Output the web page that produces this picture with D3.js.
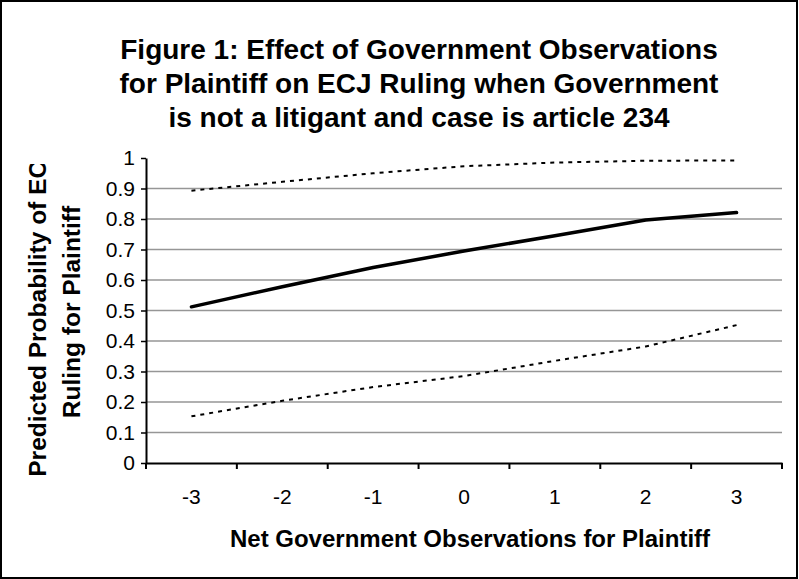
<!DOCTYPE html>
<html>
<head>
<meta charset="utf-8">
<script src="https://cdn.jsdelivr.net/npm/d3@7"></script>
<style>
  body { margin: 0; background: #fff; }
  svg { display: block; }
</style>
</head>
<body>
<div id="chart"></div>
<script>
// chart data
const categories = ["-3", "-2", "-1", "0", "1", "2", "3"];
const predicted = [0.512, 0.578, 0.641, 0.695, 0.745, 0.797, 0.821];
const upperBound = [0.893, 0.922, 0.950, 0.973, 0.985, 0.991, 0.992];
const lowerBound = [0.153, 0.204, 0.249, 0.285, 0.335, 0.382, 0.452];
const yTicks = [0, 0.1, 0.2, 0.3, 0.4, 0.5, 0.6, 0.7, 0.8, 0.9, 1];
const gridTicks = [0.1, 0.2, 0.3, 0.4, 0.5, 0.6, 0.7, 0.8, 0.9];

const titleLines = [
  "Figure 1: Effect of Government Observations",
  "for Plaintiff on ECJ Ruling when Government",
  "is not a litigant and case is article 234"
];
const yTitleLines = ["Predicted Probability of ECJ", "Ruling for Plaintiff"];
const xTitle = "Net Government Observations for Plaintiff";

const width = 799, height = 579;
const margin = {top: 158, right: 17, bottom: 116, left: 146};
const font = "'Liberation Sans', Arial, Helvetica, sans-serif";

const svg = d3.select("#chart").append("svg")
    .attr("width", width)
    .attr("height", height)
    .style("font-family", font);

// outer frame
svg.append("rect")
    .attr("x", 1).attr("y", 1)
    .attr("width", width - 3).attr("height", height - 2)
    .attr("fill", "#fff")
    .attr("stroke", "#000")
    .attr("stroke-width", 2);

const x = d3.scaleBand()
    .domain(categories)
    .range([margin.left, width - margin.right])
    .paddingInner(0).paddingOuter(0);

const y = d3.scaleLinear()
    .domain([0, 1])
    .range([height - margin.bottom, margin.top]);

// gridlines
svg.append("g")
    .selectAll("line")
    .data(gridTicks)
    .join("line")
    .attr("x1", margin.left).attr("x2", width - margin.right)
    .attr("y1", d => y(d)).attr("y2", d => y(d))
    .attr("stroke", "#969696")
    .attr("stroke-width", 1.4);

// y axis
const yAxis = svg.append("g")
    .attr("transform", "translate(" + margin.left + ",0)")
    .call(d3.axisLeft(y).tickValues(yTicks).tickSize(5).tickSizeOuter(0).tickPadding(6).tickFormat(d => d));
yAxis.select(".domain").attr("stroke-width", 2);
yAxis.selectAll(".tick line").attr("stroke-width", 1.5);
yAxis.selectAll("text").attr("font-size", 21).attr("fill", "#000").attr("font-family", font);

// x axis
const xAxis = svg.append("g")
    .attr("transform", "translate(0," + (height - margin.bottom) + ")")
    .call(d3.axisBottom(x).tickSize(0).tickSizeOuter(0).tickPadding(26));
xAxis.select(".domain").attr("stroke-width", 2);
xAxis.selectAll("text").attr("font-size", 21).attr("fill", "#000").attr("font-family", font);

// tick marks between categories
xAxis.append("g")
    .selectAll("line")
    .data(categories.map(c => x(c)).concat([x.range()[1]]))
    .join("line")
    .attr("x1", d => d).attr("x2", d => d)
    .attr("y1", 0).attr("y2", 6)
    .attr("stroke", "#000")
    .attr("stroke-width", 2);

const line = d3.line()
    .x((d, i) => x(categories[i]) + x.bandwidth() / 2)
    .y(d => y(d));

svg.append("path")
    .datum(upperBound)
    .attr("d", line)
    .attr("fill", "none")
    .attr("stroke", "#000")
    .attr("stroke-width", 2)
    .attr("stroke-dasharray", "4,5");

svg.append("path")
    .datum(lowerBound)
    .attr("d", line)
    .attr("fill", "none")
    .attr("stroke", "#000")
    .attr("stroke-width", 2)
    .attr("stroke-dasharray", "4,5");

svg.append("path")
    .datum(predicted)
    .attr("d", line)
    .attr("fill", "none")
    .attr("stroke", "#000")
    .attr("stroke-width", 3.5)
    .attr("stroke-linecap", "round")
    .attr("stroke-linejoin", "round");

// title
const title = svg.append("text")
    .attr("text-anchor", "middle")
    .attr("font-size", 28)
    .attr("font-weight", "bold");
title.selectAll("tspan")
    .data(titleLines)
    .join("tspan")
    .attr("x", 419)
    .attr("y", (d, i) => 59 + i * 34)
    .text(d => d);

// y axis title, cut off at the top like the original
svg.append("clipPath").attr("id", "ytitle-clip")
    .append("rect")
    .attr("x", 0).attr("y", 164)
    .attr("width", 140).attr("height", 400);

const yTitle = svg.append("g").attr("clip-path", "url(#ytitle-clip)");
yTitle.selectAll("text")
    .data(yTitleLines)
    .join("text")
    .attr("transform", (d, i) => "translate(" + (46 + i * 34) + ",312) rotate(-90)")
    .attr("text-anchor", "middle")
    .attr("font-size", 24.5)
    .attr("font-weight", "bold")
    .text(d => d);

// x axis title
svg.append("text")
    .attr("x", (margin.left + width - margin.right) / 2 + 6)
    .attr("y", 547)
    .attr("text-anchor", "middle")
    .attr("font-size", 24)
    .attr("font-weight", "bold")
    .text(xTitle);
</script>
</body>
</html>
